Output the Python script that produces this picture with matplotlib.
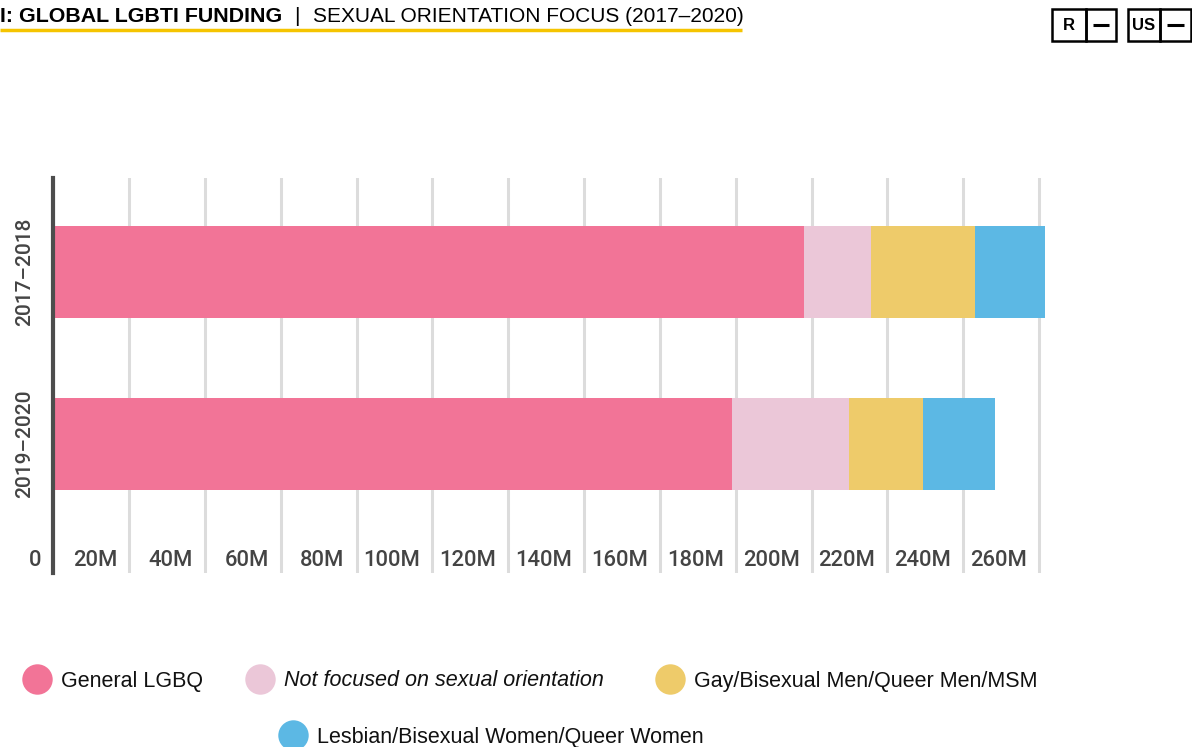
import matplotlib
matplotlib.use("Agg")
import matplotlib.pyplot as plt
from matplotlib.patches import Rectangle
from matplotlib.transforms import blended_transform_factory, ScaledTranslation

periods = ["2017\u20132018", "2019\u20132020"]
series_names = ["General LGBQ", "Not focused on sexual orientation",
                "Gay/Bisexual Men/Queer Men/MSM", "Lesbian/Bisexual Women/Queer Women"]
general_lgbq = [198.1, 178.9]
not_focused = [17.7, 31.1]
gay_bi_men = [27.2, 19.5]
lesbian_bi_women = [18.5, 19.0]
tick_values = list(range(0, 261, 20))
tick_labels = ["0"] + [f"{v}M" for v in tick_values[1:]]

colors = ["#f27497", "#ebc7d8", "#eecb6a", "#5cb8e4"]
W, H = 1192, 747
fig = plt.figure(figsize=(W / 100, H / 100), dpi=100)
fig.patch.set_facecolor("white")

# main axes, positioned in pixels
x0, x1, y0, y1 = 53.2, 1046.6, 178, 573
ax = fig.add_axes([x0 / W, 1 - y1 / H, (x1 - x0) / W, (y1 - y0) / H])
ax.set_xlim(0, 262)
ax.set_ylim(1.75, -0.5465)

left = [0, 0]
for vals, c in zip([general_lgbq, not_focused, gay_bi_men, lesbian_bi_women], colors):
    ax.barh(range(len(periods)), vals, left=left, height=0.535, color=c, zorder=3)
    left = [l + v for l, v in zip(left, vals)]

ax.set_xticks(tick_values)
ax.set_xticklabels([])
ax.tick_params(axis="x", length=0)
ax.grid(axis="x", color="#dcdcdc", linewidth=2.2, zorder=0)
for s in ["top", "right", "bottom"]:
    ax.spines[s].set_visible(False)
ax.spines["left"].set_color("#4d4d4d")
ax.spines["left"].set_linewidth(3)
ax.spines["left"].set_zorder(4)

# x labels sit inside the plot, right-aligned just left of each gridline
trans = blended_transform_factory(ax.transData, ax.transAxes) + \
    ScaledTranslation(-0.12, 0, fig.dpi_scale_trans)
for v, lab in zip(tick_values, tick_labels):
    ax.text(v, 12 / (y1 - y0), lab, transform=trans, ha="right", va="center",
            fontsize=15.8, color="#444444", family="Roboto", fontweight="medium")

ax.set_yticks(range(len(periods)))
ax.set_yticklabels(periods, rotation=90, va="center", fontsize=15,
                   color="#444444", family="Roboto", fontweight="medium")
ax.tick_params(axis="y", length=0, pad=14)

# overlay in pixel coordinates for header and legend
ov = fig.add_axes([0, 0, 1, 1], zorder=-1)
ov.set_xlim(0, W)
ov.set_ylim(H, 0)
ov.axis("off")

ov.text(0, 16, "I: GLOBAL LGBTI FUNDING", fontsize=15.4, fontweight="bold",
        family="Liberation Sans", va="center", ha="left")
ov.text(297, 16, "|", fontsize=15, family="Liberation Sans", va="center", ha="center")
ov.text(313, 16, "SEXUAL ORIENTATION FOCUS (2017\u20132020)", fontsize=15,
        family="Liberation Sans", va="center", ha="left")
ov.plot([0, 742], [29.5, 29.5], color="#f5c400", linewidth=2.5, solid_capstyle="butt")

for bx, bw, lab, fs in [(1052, 34, "R", 12), (1086, 30, "", 0),
                        (1128, 32, "US", 12), (1160, 31, "", 0)]:
    ov.add_patch(Rectangle((bx, 9), bw, 32, fill=False, edgecolor="black", linewidth=1.8))
    if lab:
        ov.text(bx + bw / 2, 25.5, lab, fontsize=fs, fontweight="bold",
                family="Liberation Sans", ha="center", va="center")
    else:
        ov.plot([bx + 7, bx + bw - 7], [25, 25], color="black", linewidth=2.2,
                solid_capstyle="butt")

leg_pos = [(37, 679), (260, 679), (670, 679), (293, 735)]
for (cx, cy), name, c in zip(leg_pos, series_names, colors):
    ov.scatter([cx], [cy], s=480, color=c, linewidths=0)
    ov.text(cx + 24, cy + 2, name, fontsize=15.5, family="Liberation Sans", va="center",
            ha="left", style="italic" if name.startswith("Not") else "normal",
            color="#111111")

fig.savefig("out.png", dpi=100)
